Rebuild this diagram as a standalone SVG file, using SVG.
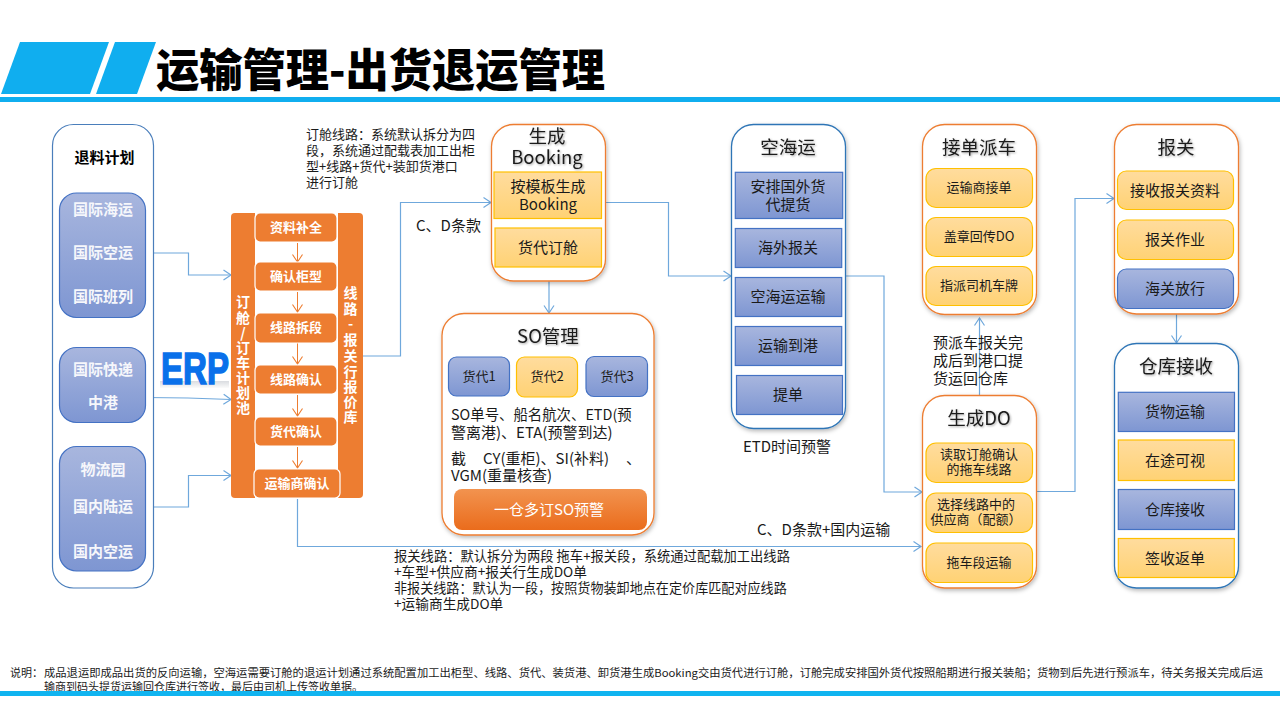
<svg xmlns="http://www.w3.org/2000/svg" width="1280" height="720" viewBox="0 0 1280 720">
<style>
text{font-family:"Noto Sans CJK SC","Noto Sans",sans-serif;fill:#1a1a1a}
.c{text-anchor:middle}
.t{font-size:15px}
.n{font-size:13px}
.h{font-size:18.500px;text-anchor:middle;filter:url(#ts)}
.w{font-size:15px;font-weight:700;fill:#f6f7fb;text-anchor:middle}
.o{font-size:13px;font-weight:700;fill:#fff;text-anchor:middle}
.v{font-size:14px;font-weight:700;fill:#fff;text-anchor:middle}
.k{font-size:15px;text-anchor:middle}
.s{font-size:13px;text-anchor:middle}
.f{font-size:11px}
.pa{fill:#fff;stroke:#ed7d31;stroke-width:1.3;filter:url(#ds)}
.pb{fill:#fff;stroke:#2e75b6;stroke-width:1.3;filter:url(#ds)}
.b{fill:url(#gb);stroke:#4472c4;stroke-width:1.2}
.y{fill:url(#gy);stroke:#ffc000;stroke-width:1.2}
.or{fill:#ed7d31;stroke:#fff;stroke-width:1.2}
.cn{fill:none;stroke:#6fa8dc;stroke-width:1.2;marker-end:url(#ab)}
.co{fill:none;stroke:#ed7d31;stroke-width:1;marker-end:url(#ao)}
</style>
<defs>
<linearGradient id="gb" x1="0" y1="0" x2="0" y2="1"><stop offset="0" stop-color="#a8b6de"/><stop offset="1" stop-color="#7e96d2"/></linearGradient>
<linearGradient id="gy" x1="0" y1="0" x2="0" y2="1"><stop offset="0" stop-color="#ffdc9e"/><stop offset="1" stop-color="#ffd274"/></linearGradient>
<linearGradient id="gr" x1="0" y1="0" x2="0" y2="1"><stop offset="0" stop-color="#f2934f"/><stop offset="1" stop-color="#ea6c1c"/></linearGradient>
<linearGradient id="gl" x1="0" y1="0" x2="0" y2="1"><stop offset="0" stop-color="#d9dce0"/><stop offset="1" stop-color="#fbfbfb"/></linearGradient>
<filter id="ds" x="-10%" y="-10%" width="120%" height="120%"><feDropShadow dx="1" dy="2" stdDeviation="2" flood-color="#000" flood-opacity=".28"/></filter>
<filter id="ts" x="-10%" y="-20%" width="120%" height="150%"><feDropShadow dx="1" dy="1" stdDeviation=".8" flood-color="#000" flood-opacity=".35"/></filter>
<marker id="ab" markerUnits="userSpaceOnUse" markerWidth="10" markerHeight="12" refX="8.500" refY="6" orient="auto"><path d="M1,1 L8.500,6 L1,11" fill="none" stroke="#6fa8dc" stroke-width="1.2"/></marker>
<marker id="ao" markerUnits="userSpaceOnUse" markerWidth="12" markerHeight="12" refX="8.500" refY="6" orient="auto"><path d="M1,1 L8.500,6 L1,11" fill="none" stroke="#ed7d31" stroke-width="1.1"/></marker>
</defs>

<rect width="1280" height="720" fill="#fff"/>

<!-- page header -->
<g id="header">
<polygon points="20,42 109,42 90,94 1,94" fill="#10aeef"/>
<polygon points="115,42 156,42 137,94 96,94" fill="#10aeef"/>
<rect x="0" y="97" width="1280" height="5" fill="#10aeef"/>
<text x="156" y="87" textLength="449" lengthAdjust="spacingAndGlyphs" style="font-size:45px;font-weight:900;fill:#000">运输管理-出货退运管理</text>
</g>

<!-- connectors -->
<g id="connectors">
<polyline class="cn" points="145.500,253 188.500,253 188.500,275 231,275"/>
<polyline class="cn" points="145.500,397.500 188,398 231,399.500"/>
<polyline class="cn" points="145.500,507 188.500,507 188.500,475.500 231,475.500"/>
<polyline class="cn" points="363,356 400.500,356 400.500,202.500 491,202.500"/>
<polyline class="cn" points="549,281 549,313"/>
<polyline class="cn" points="605.500,202.500 668.500,202.500 668.500,276 731,276"/>
<polyline class="cn" points="845.500,276 884,276 884,492 922,492"/>
<polyline class="cn" points="979.500,396 979.500,318"/>
<polyline class="cn" points="1036.500,491.500 1075,491.500 1075,198.500 1114,198.500"/>
<polyline class="cn" points="1176.500,314 1176.500,343"/>
<polyline class="cn" points="297.500,499 297.500,546.500 921,546.500"/>
</g>

<!-- return plan -->
<g id="plan">
<rect x="52.500" y="124.500" width="101" height="463.500" rx="21" fill="#fff" stroke="#4a7ebb" stroke-width="1.2"/>
<text class="c" x="104.500" y="163" style="font-size:15px;font-weight:700;fill:#000">退料计划</text>
</g>
<g id="plan-sea-air">
<rect class="b" x="59.500" y="193" width="86" height="124.500" rx="17"/>
<text class="w" x="103" y="215">国际海运</text>
<text class="w" x="103" y="258">国际空运</text>
<text class="w" x="103" y="302">国际班列</text>
</g>
<g id="plan-express">
<rect class="b" x="59.500" y="347.500" width="86" height="75" rx="17"/>
<text class="w" x="103" y="375">国际快递</text>
<text class="w" x="103" y="408">中港</text>
</g>
<g id="plan-domestic">
<rect class="b" x="59.500" y="446.500" width="86" height="124.500" rx="17"/>
<text class="w" x="103" y="475">物流园</text>
<text class="w" x="103" y="512">国内陆运</text>
<text class="w" x="103" y="557">国内空运</text>
</g>

<!-- ERP mark -->
<g id="erp">
<rect x="160" y="381" width="69" height="7" fill="url(#gl)"/>
<text x="161" y="384" textLength="68" lengthAdjust="spacingAndGlyphs" style="font-family:'Liberation Sans',sans-serif;font-size:44px;font-weight:700;fill:#0a70ea;stroke:#0a70ea;stroke-width:1.500">ERP</text>
</g>

<!-- booking pool -->
<g id="pool">
<rect x="231" y="213" width="132" height="285" rx="4" fill="#ed7d31"/>
<rect x="255" y="213" width="83" height="285" fill="#fff"/>
<text class="v" x="243 243 243 243 243 243 243 243" y="307 323 338 353 368 383 398 413">订舱/订车计划池</text>
<text class="v" x="350.500 350.500 350.500 350.500 350.500 350.500 350.500 350.500 350.500" y="298 314 329 345 361 377 392 407 422">线路-报关行报价库</text>
</g>
<g id="pool-steps">
<polyline class="co" points="297.500,243 297.500,262"/>
<polyline class="co" points="297.500,292 297.500,312"/>
<polyline class="co" points="297.500,343 297.500,364"/>
<polyline class="co" points="297.500,395 297.500,416"/>
<polyline class="co" points="297.500,447 297.500,468"/>
</g>
<g id="step-1"><rect class="or" x="255" y="213" width="82" height="29" rx="5"/><text class="o" x="296" y="232">资料补全</text></g>
<g id="step-2"><rect class="or" x="255" y="262" width="82" height="29" rx="5"/><text class="o" x="296" y="281">确认柜型</text></g>
<g id="step-3"><rect class="or" x="255" y="313" width="82" height="30" rx="5"/><text class="o" x="296" y="332">线路拆段</text></g>
<g id="step-4"><rect class="or" x="255" y="365" width="82" height="29" rx="5"/><text class="o" x="296" y="384">线路确认</text></g>
<g id="step-5"><rect class="or" x="255" y="417" width="82" height="29" rx="5"/><text class="o" x="296" y="436">货代确认</text></g>
<g id="step-6"><rect class="or" x="254" y="469" width="86" height="29" rx="5"/><text class="o" x="297" y="488">运输商确认</text></g>

<!-- free notes -->
<g id="notes">
<text class="n"><tspan x="306" y="139">订舱线路：系统默认拆分为四</tspan><tspan x="306" y="155">段，系统通过配载表加工出柜</tspan><tspan x="306" y="171">型+线路+货代+装卸货港口</tspan><tspan x="306" y="187">进行订舱</tspan></text>
<text class="t" x="416" y="231">C、D条款</text>
<text class="t" x="757" y="535">C、D条款+国内运输</text>
<text class="n" style="font-size:13.300px"><tspan x="394" y="561">报关线路：默认拆分为两段  拖车+报关段，系统通过配载加工出线路</tspan><tspan x="394" y="577" style="font-size:13.700px">+车型+供应商+报关行生成DO单</tspan><tspan x="394" y="593" style="font-size:13.100px">非报关线路：默认为一段，按照货物装卸地点在定价库匹配对应线路</tspan><tspan x="394" y="609" style="font-size:13.700px">+运输商生成DO单</tspan></text>
<text class="t c" x="787" y="452">ETD时间预警</text>
<text class="t"><tspan x="933" y="348">预派车报关完</tspan><tspan x="933" y="366">成后到港口提</tspan><tspan x="933" y="384">货运回仓库</tspan></text>
</g>

<!-- booking -->
<g id="booking">
<rect class="pa" x="491.500" y="124.500" width="114" height="156.500" rx="22"/>
<text class="h"><tspan x="547" y="143">生成</tspan><tspan x="547" y="164">Booking</tspan></text>
<rect class="y" x="494" y="172" width="107.500" height="46.500"/>
<text class="k"><tspan x="548" y="192">按模板生成</tspan><tspan x="548" y="210">Booking</tspan></text>
<rect class="y" x="495" y="228" width="106.500" height="39"/>
<text class="k" x="548" y="253">货代订舱</text>
</g>

<!-- SO management -->
<g id="so">
<rect class="pa" x="442" y="313.500" width="212" height="221.500" rx="22"/>
<text class="h" x="548" y="343">SO管理</text>
<rect class="b" x="448.500" y="357" width="61" height="39" rx="8"/>
<text class="s" x="479" y="381">货代1</text>
<rect class="y" x="516.500" y="357" width="61" height="40" rx="8"/>
<text class="s" x="547" y="381">货代2</text>
<rect class="b" x="586" y="356.500" width="61.500" height="40" rx="8"/>
<text class="s" x="617" y="381">货代3</text>
<text class="t"><tspan x="451" y="420" style="font-size:14.400px">SO单号、船名航次、ETD(预</tspan><tspan x="451" y="438">警离港)、ETA(预警到达)</tspan></text>
<text class="t"><tspan x="451" y="464">截</tspan><tspan x="483" y="464">CY(重柜)、SI(补料)</tspan><tspan x="626" y="464">、</tspan><tspan x="451" y="481">VGM(重量核查)</tspan></text>
<rect x="454" y="489" width="193" height="41" rx="8" fill="url(#gr)"/>
<text class="c" x="549" y="515" style="font-size:15px;fill:#fff">一仓多订SO预警</text>
</g>

<!-- sea and air -->
<g id="sea-air">
<rect class="pb" x="731.500" y="124.500" width="114" height="304" rx="22"/>
<text class="h" x="788" y="154">空海运</text>
<rect class="b" x="735.300" y="172.300" width="107.400" height="46.200"/>
<text class="k"><tspan x="788" y="192">安排国外货</tspan><tspan x="788" y="210">代提货</tspan></text>
<rect class="b" x="735.300" y="228.500" width="106.400" height="39"/>
<text class="k" x="788" y="253">海外报关</text>
<rect class="b" x="735.300" y="277.500" width="106.400" height="39"/>
<text class="k" x="788" y="302">空海运运输</text>
<rect class="b" x="735.300" y="326.500" width="106.400" height="39"/>
<text class="k" x="788" y="351">运输到港</text>
<rect class="b" x="736.500" y="375.500" width="106" height="39"/>
<text class="k" x="788" y="400">提单</text>
</g>

<!-- dispatch -->
<g id="dispatch">
<rect class="pa" x="922.500" y="124.500" width="114" height="190" rx="22"/>
<text class="h" x="979" y="154">接单派车</text>
<rect class="y" x="926" y="168.500" width="106.500" height="39" rx="10"/>
<text class="s" x="979" y="192">运输商接单</text>
<rect class="y" x="926" y="217.500" width="106.500" height="39" rx="10"/>
<text class="s" x="979" y="241">盖章回传DO</text>
<rect class="y" x="926" y="266.500" width="106.500" height="39" rx="10"/>
<text class="s" x="979" y="290">指派司机车牌</text>
</g>

<!-- delivery order -->
<g id="do">
<rect class="pa" x="922.500" y="395.500" width="114" height="192.500" rx="22"/>
<text class="h" x="979" y="425">生成DO</text>
<rect class="y" x="926" y="443" width="106.500" height="39.500" rx="10"/>
<text class="s"><tspan x="979" y="459">读取订舱确认</tspan><tspan x="979" y="474">的拖车线路</tspan></text>
<rect class="y" x="926" y="493" width="106.500" height="39.500" rx="10"/>
<text class="s"><tspan x="976" y="509">选择线路中的</tspan><tspan x="976" y="524">供应商（配额）</tspan></text>
<rect class="y" x="926" y="543" width="106.500" height="39.500" rx="10"/>
<text class="s" x="979" y="567">拖车段运输</text>
</g>

<!-- customs -->
<g id="customs">
<rect class="pa" x="1114.500" y="124.500" width="124" height="189.500" rx="22"/>
<text class="h" x="1176" y="154">报关</text>
<rect class="y" x="1117.500" y="171" width="116" height="38.500" rx="9"/>
<text class="k" x="1175" y="196">接收报关资料</text>
<rect class="y" x="1117.500" y="220" width="116" height="39.500" rx="9"/>
<text class="k" x="1175" y="245">报关作业</text>
<rect class="b" x="1117.500" y="269" width="116" height="39.500" rx="9"/>
<text class="k" x="1175" y="294">海关放行</text>
</g>

<!-- warehouse -->
<g id="warehouse">
<rect class="pb" x="1114.500" y="343.500" width="124" height="244.500" rx="22"/>
<text class="h" x="1176" y="373">仓库接收</text>
<rect class="b" x="1118.300" y="392.300" width="116.200" height="39.200"/>
<text class="k" x="1175" y="417">货物运输</text>
<rect class="y" x="1118.300" y="440" width="116" height="40.500"/>
<text class="k" x="1175" y="466">在途可视</text>
<rect class="b" x="1118.300" y="489.500" width="116.200" height="40"/>
<text class="k" x="1175" y="515">仓库接收</text>
<rect class="y" x="1118.300" y="538.500" width="116" height="39"/>
<text class="k" x="1175" y="564">签收返单</text>
</g>

<!-- footer -->
<g id="footer">
<text class="f" x="10" y="677">说明：</text>
<text class="f"><tspan x="44" y="677" textLength="1219" lengthAdjust="spacingAndGlyphs">成品退运即成品出货的反向运输，空海运需要订舱的退运计划通过系统配置加工出柜型、线路、货代、装货港、卸货港生成Booking交由货代进行订舱，订舱完成安排国外货代按照船期进行报关装船；货物到后先进行预派车，待关务报关完成后运</tspan><tspan x="44" y="691">输商到码头提货运输回仓库进行签收，最后由司机上传签收单据。</tspan></text>
<rect x="0" y="691" width="1280" height="5" fill="#10b4f0"/>
</g>
</svg>
